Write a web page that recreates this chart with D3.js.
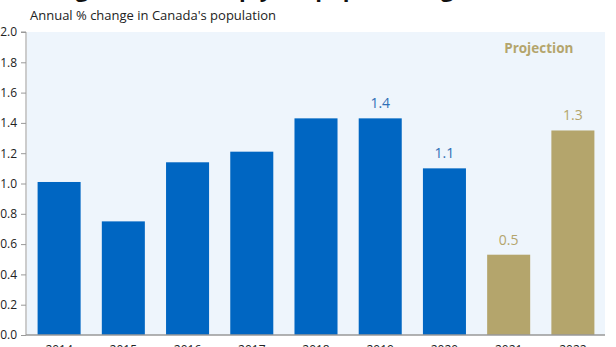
<!DOCTYPE html>
<html><head><meta charset="utf-8">
<script src="https://cdn.jsdelivr.net/npm/d3@7"></script>
<style>html,body{margin:0;padding:0;background:#fff;}svg{display:block;}</style>
</head><body>
<svg id="chart" width="616" height="347"></svg>
<script>
const years = ["2014","2015","2016","2017","2018","2019","2020","2021","2022"];
const growth = [1.01, 0.75, 1.14, 1.21, 1.43, 1.43, 1.10, 0.53, 1.35];
const isProjection = [false,false,false,false,false,false,false,true,true];
const valueLabels = ["","","","","","1.4","1.1","0.5","1.3"];
const yTicks = [0,0.2,0.4,0.6,0.8,1.0,1.2,1.4,1.6,1.8,2.0];
const titleText = "Immigration to sharply lift population growth";
const subtitleText = "Annual % change in Canada's population";
const projectionText = "Projection";

const svg = d3.select("#chart");
const font = "'Open Sans', 'DejaVu Sans', sans-serif";
const m = {left:27, right:11, top:32, bottom:12};
const W = 616, H = 347;
const x = d3.scaleBand().domain(years).range([m.left, W - m.right]).paddingInner(0.33).paddingOuter(0.165);
const y = d3.scaleLinear().domain([0, 2]).range([335, 32]);

const blue = "#0066c2", gold = "#b4a56c";

// plot background
svg.append("rect").attr("x", m.left).attr("y", y(2)).attr("width", W - m.right - m.left)
  .attr("height", y(0) - y(2)).attr("fill", "#eef5fc");

// title (cropped at top)
svg.append("text").attr("x", 520).attr("y", -3).attr("text-anchor","end")
  .attr("font-family", font).attr("font-weight","bold").attr("font-size", 22).attr("fill","#111")
  .text(titleText);
svg.append("text").attr("x", 30).attr("y", 20).attr("font-family", font).attr("font-size", 13)
  .attr("fill","#222").text(subtitleText);

// bars
svg.selectAll("rect.bar").data(years).join("rect").attr("class","bar")
  .attr("x", d => x(d)).attr("width", x.bandwidth())
  .attr("y", (d,i) => y(growth[i])).attr("height", (d,i) => y(0) - y(growth[i]))
  .attr("fill", (d,i) => isProjection[i] ? gold : blue);

// value labels
svg.selectAll("text.val").data(years).join("text").attr("class","val")
  .attr("x", d => x(d) + x.bandwidth()/2).attr("y", (d,i) => y(growth[i]) - 10)
  .attr("text-anchor","middle").attr("font-family", font).attr("font-size", 14)
  .attr("fill", (d,i) => isProjection[i] ? gold : "#2f6fb6")
  .text((d,i) => valueLabels[i]);

// projection label
svg.append("text").attr("x", x("2021") + x.bandwidth() + (x.step()-x.bandwidth())/2 - 2).attr("y", 53)
  .attr("text-anchor","middle").attr("font-family", font).attr("font-weight","bold").attr("font-size", 13.5)
  .attr("fill", gold).text(projectionText);

// y axis
const yAxis = d3.axisLeft(y).tickValues(yTicks).tickFormat(d3.format(".1f")).tickSize(5).tickPadding(4);
const gy = svg.append("g").attr("transform", `translate(${m.left - 1},0)`).call(yAxis);
gy.select(".domain").attr("stroke","#999").attr("d", `M-5,${y(2)}H0V${y(0)}`);
gy.selectAll(".tick line").attr("stroke","#999");
gy.selectAll(".tick text").attr("font-family", font).attr("font-size", 12).attr("fill","#222");

// x axis
const xAxis = d3.axisBottom(x).tickSize(0).tickPadding(10);
const gx = svg.append("g").attr("transform", `translate(0,${y(0)})`).call(xAxis);
gx.select(".domain").attr("stroke","#999").attr("stroke-width",1.5).attr("d", `M${m.left - 1},0H${W - m.right}`);
gx.selectAll(".tick text").attr("font-family", font).attr("font-size", 12).attr("fill","#222");
</script>
</body></html>
